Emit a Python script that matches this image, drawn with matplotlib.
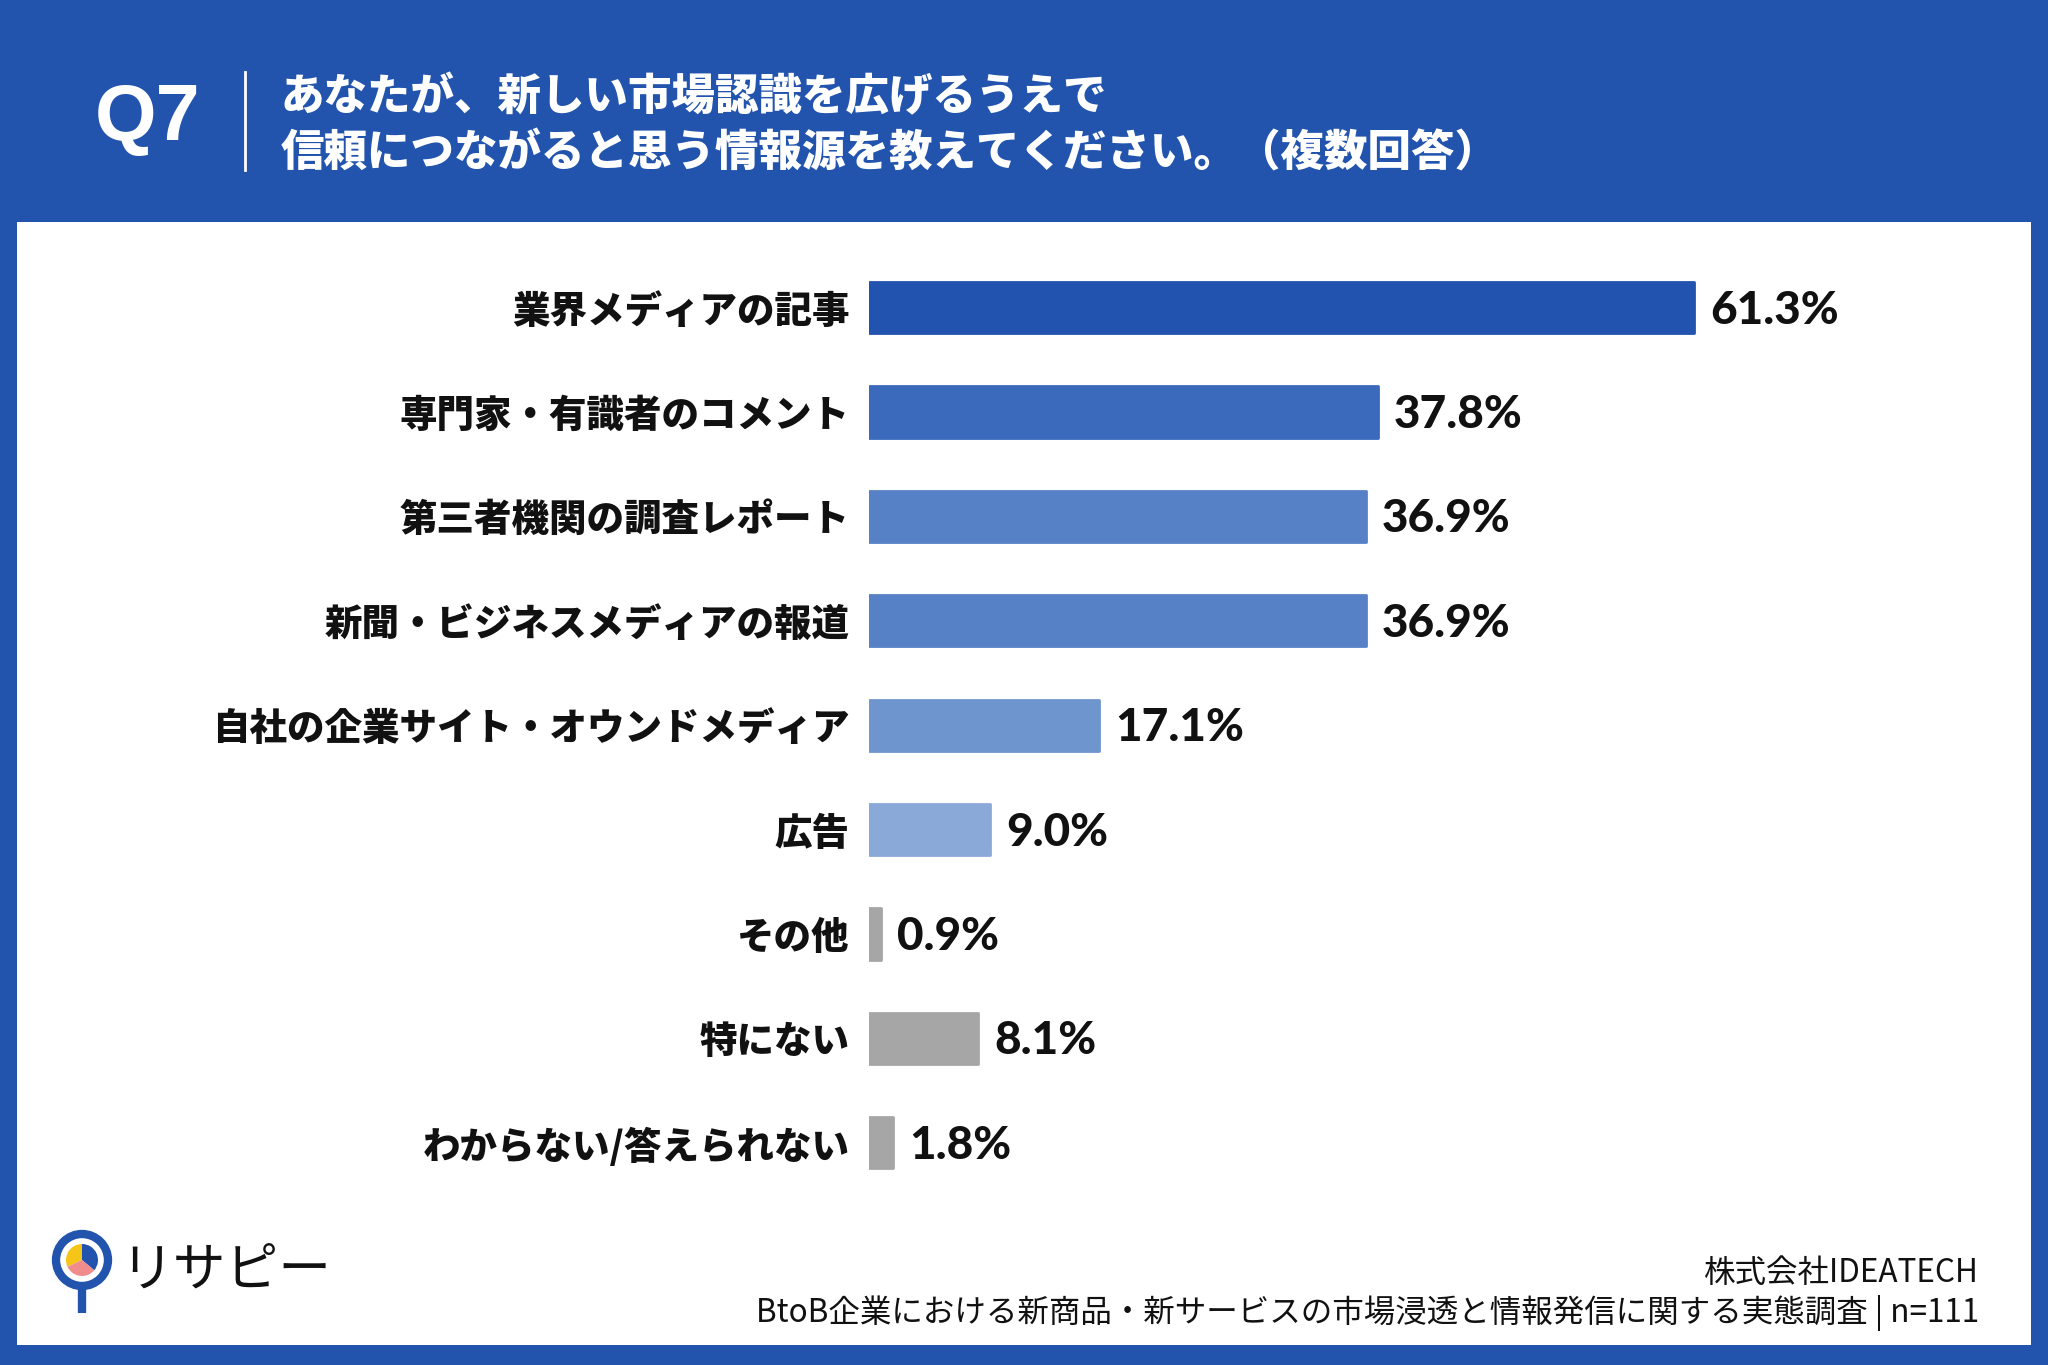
import matplotlib
matplotlib.use("Agg")
import matplotlib.pyplot as plt
from matplotlib.patches import Rectangle, Circle, Wedge
import matplotlib.lines as mlines
from matplotlib.transforms import offset_copy

plt.rcParams['font.family'] = ['Noto Sans CJK JP', 'DejaVu Sans']

# ---- data ----
categories = [
    "業界メディアの記事",
    "専門家・有識者のコメント",
    "第三者機関の調査レポート",
    "新聞・ビジネスメディアの報道",
    "自社の企業サイト・オウンドメディア",
    "広告",
    "その他",
    "特にない",
    "わからない/答えられない",
]
values = [61.3, 37.8, 36.9, 36.9, 17.1, 9.0, 0.9, 8.1, 1.8]
bar_colors = ["#2253AE", "#3B69BC", "#5781C6", "#5781C6", "#6F95CE",
              "#8BA9D8", "#A6A6A6", "#A6A6A6", "#A6A6A6"]
value_labels = [f"{v:.1f}%" for v in values]

question_no = "Q7"
title_lines = ["あなたが、新しい市場認識を広げるうえで",
               "信頼につながると思う情報源を教えてください。（複数回答）"]
source_lines = ["株式会社IDEATECH",
                "BtoB企業における新商品・新サービスの市場浸透と情報発信に関する実態調査 | n=111"]
logo_text = "リサピー"

BLUE = "#2254AE"
W, H = 2048, 1365
fig = plt.figure(figsize=(W / 100, H / 100), dpi=100)
fig.patch.set_facecolor(BLUE)

def fx(px):
    return px / W

def fy(py):
    return 1 - py / H

# white panel
fig.add_artist(Rectangle((fx(17), fy(1345)), fx(2031) - fx(17), fy(222) - fy(1345),
                         transform=fig.transFigure, facecolor="white",
                         edgecolor="none", zorder=-5))

# header
fig.text(fx(148), fy(120), question_no, color="white", fontsize=57, fontweight="bold",
         ha="center", va="center", family=["Liberation Sans", "DejaVu Sans"])
fig.add_artist(mlines.Line2D([fx(245), fx(245)], [fy(72), fy(170)], color="white",
                             lw=2, transform=fig.transFigure))
fig.text(fx(281), fy(98), title_lines[0], color="white", fontsize=31.3, fontweight=900,
         ha="left", va="center")
fig.text(fx(281), fy(154), title_lines[1], color="white", fontsize=31.3, fontweight=900,
         ha="left", va="center")

# chart axes
ax = fig.add_axes([fx(869), fy(1195.1), fx(1946) - fx(869), fy(255.4) - fy(1195.1)],
                  zorder=2)
ax.set_facecolor("none")
y = list(range(len(categories)))
ax.barh(y, values, height=0.49, color=bar_colors, edgecolor=bar_colors,
        linewidth=2, joinstyle="round", zorder=2)
ax.set_xlim(0, 80)
ax.set_ylim(len(categories) - 0.5, -0.5)
ax.set_yticks(y)
ax.set_yticklabels(categories, fontsize=27, fontweight=900, color="#111111")
ax.tick_params(axis="y", length=0, pad=14)
ax.set_xticks([])
for s in ax.spines.values():
    s.set_visible(False)

tr = offset_copy(ax.transData, fig=fig, x=16, y=-3, units="dots")
for yi, v, lab in zip(y, values, value_labels):
    ax.text(v, yi, lab, transform=tr, ha="left", va="center", fontsize=33,
            fontweight=900, color="#111111", family=["Lato", "DejaVu Sans"])

# logo
cx, cy = 82, 1260
fig.add_artist(mlines.Line2D([fx(cx), fx(cx)], [fy(cy + 26), fy(1313)], color="#2254AE",
                             lw=6, transform=fig.transFigure, solid_capstyle="butt",
                             zorder=3))
lax = fig.add_axes([fx(cx - 35), fy(cy + 35), fx(70), 70 / H], zorder=4)
lax.set_xlim(-35, 35)
lax.set_ylim(-35, 35)
lax.set_aspect("equal")
lax.axis("off")
lax.add_patch(Circle((0, 0), 26, facecolor="white", edgecolor="#2254AE", lw=6))
lax.add_patch(Wedge((0, 0), 16, -40, 90, facecolor="#2254AE"))
lax.add_patch(Wedge((0, 0), 16, 90, 205, facecolor="#F5C518"))
lax.add_patch(Wedge((0, 0), 16, 205, 320, facecolor="#F08C8C"))
fig.text(fx(120), fy(1270), logo_text, color="#111111", fontsize=38, ha="left",
         va="center", fontweight="normal")

# source
fig.text(fx(1979), fy(1273), source_lines[0], color="#111111", fontsize=22.7,
         ha="right", va="center")
fig.text(fx(1979), fy(1313), source_lines[1], color="#111111", fontsize=22.7,
         ha="right", va="center")

fig.savefig("out.png", dpi=100, facecolor=BLUE)
